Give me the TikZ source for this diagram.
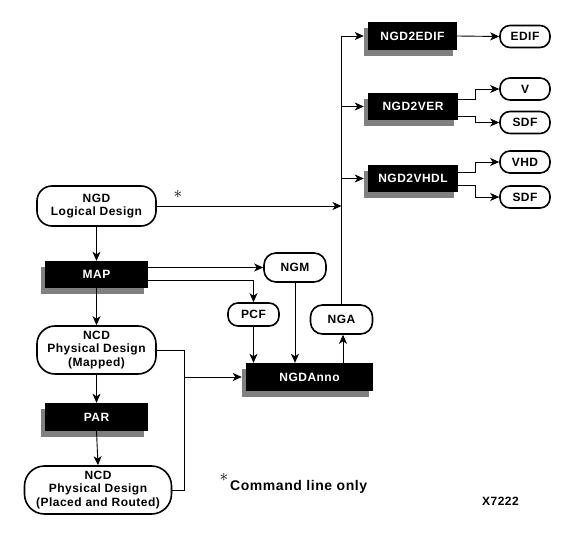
\documentclass[tikz,border=0pt]{standalone}
\usepackage{fontspec}
\usetikzlibrary{arrows.meta}
\newfontfamily\hv{Liberation Sans}[LetterSpace=4]
\newcommand{\lbl}{\hv\bfseries\fontsize{12}{13.5}\selectfont}
\newcommand{\mkblk}[6]{%
  \node[shd,minimum width=#4,minimum height=#5] (#1S) at (#2-4,#3+6) {};
  \node[blk,minimum width=#4,minimum height=#5] (#1) at (#2,#3) {#6};}
\begin{document}
\begin{tikzpicture}[x=1pt,y=-1pt,
  blk/.style={fill=black,text=white,inner sep=0pt,font=\lbl},
  shd/.style={fill=black!50,inner sep=0pt},
  ov/.style={draw,line width=1.6pt,fill=white,inner sep=0pt,align=center,font=\lbl},
  arr/.style={-{Stealth[length=9pt,width=8pt,inset=2.5pt]},line width=0.9pt},
  ln/.style={line width=0.9pt}]
\useasboundingbox (0,0) rectangle (586,537);
% left column
\node[ov,rounded corners=15pt,minimum width=119pt,minimum height=40pt] (ngd) at (96.5,206) {NGD\\Logical Design};
\mkblk{map}{96.5}{274.5}{103pt}{27pt}{MAP}
\node[ov,rounded corners=18pt,minimum width=119pt,minimum height=48pt] (ncdm) at (96.5,350) {NCD\\Physical Design\\(Mapped)};
\mkblk{par}{96.5}{417}{103pt}{28pt}{PAR}
\node[ov,rounded corners=20pt,minimum width=147pt,minimum height=48pt] (ncdr) at (98,490) {NCD\\Physical Design\\(Placed and Routed)};
% middle
\node[ov,rounded corners=12pt,minimum width=62pt,minimum height=29pt] (ngm) at (295,267.5) {NGM};
\node[ov,rounded corners=10pt,minimum width=51pt,minimum height=23pt] (pcf) at (253.5,314.5) {PCF};
\node[ov,rounded corners=12pt,minimum width=62pt,minimum height=29pt] (nga) at (341.5,319.5) {NGA};
\mkblk{anno}{309.5}{377}{127pt}{28pt}{NGDAnno}
% right
\mkblk{eedif}{412.5}{36}{89pt}{28pt}{NGD2EDIF}
\mkblk{ever}{413}{106.5}{90pt}{27pt}{NGD2VER}
\mkblk{evhdl}{413}{178.5}{90pt}{27pt}{NGD2VHDL}
\node[ov,rounded corners=10pt,minimum width=50pt,minimum height=22pt] (edif) at (525,36.5) {EDIF};
\node[ov,rounded corners=10pt,minimum width=50pt,minimum height=22pt] (v) at (525,89) {V};
\node[ov,rounded corners=10pt,minimum width=50pt,minimum height=22pt] (sdfa) at (525,122.5) {SDF};
\node[ov,rounded corners=10pt,minimum width=50pt,minimum height=22pt] (vhd) at (525,162) {VHD};
\node[ov,rounded corners=10pt,minimum width=50pt,minimum height=22pt] (sdfb) at (525,197) {SDF};
% texts
\node[inner sep=0pt] (star) at (178,194) {\fontsize{18}{18}\selectfont$\ast$};
\node[inner sep=0pt] (star2) at (224,477) {\fontsize{18}{18}\selectfont$\ast$};
\node[inner sep=0pt,anchor=west,font=\hv\bfseries\fontsize{14}{16}\selectfont] (cmd) at (230,487) {Command line only};
\node[inner sep=0pt,font=\lbl] (xnum) at (500.5,501) {X7222};
\coordinate (jx) at (184,377);
% connectors left
\draw[arr] (ngd.south) -- (map.north);
\draw[arr] (map.south) -- (ncdm.north);
\draw[arr] (ncdm.south) -- (par.north);
\draw[arr] (par.south) -- (ncdr.north);
\draw[ln] (ncdm.east) -| (jx |- ncdr.east) -- (ncdr.east);
\draw[arr] (jx) -- (jx -| annoS.west);
\draw[arr] (map.east |- ngm) -- (ngm.west);
\draw[arr] ([yshift=-5.5pt]map.east) -| (pcf.north);
\draw[arr] (pcf.south) -- (pcf.south |- anno.north);
\draw[arr] (ngm.south) -- (ngm.south |- anno.north);
\draw[arr] ([xshift=1.5pt]nga.south |- anno.north) -- ([xshift=1.5pt]nga.south);
% bus
\draw[arr] (nga.north) -- (nga.north |- eedif) -- (eedif -| eedifS.west);
\draw[arr] (nga.north |- ever) -- (ever -| everS.west);
\draw[arr] (nga.north |- evhdl) -- (evhdl -| evhdlS.west);
\draw[arr] (ngd.east) -- (ngd.east -| nga.north);
% outputs
\draw[arr] (eedif.east) -- (edif.west);
\draw[arr] ([yshift=7.5pt]ever.east) -- ++(17,0) |- (v.west);
\draw[arr] ([yshift=-9.5pt]ever.east) -- ++(17,0) |- (sdfa.west);
\draw[arr] ([yshift=5.6pt]evhdl.east) -- ++(17,0) |- (vhd.west);
\draw[arr] ([yshift=-6.7pt]evhdl.east) -- ++(17,0) |- (sdfb.west);
\end{tikzpicture}
\end{document}
